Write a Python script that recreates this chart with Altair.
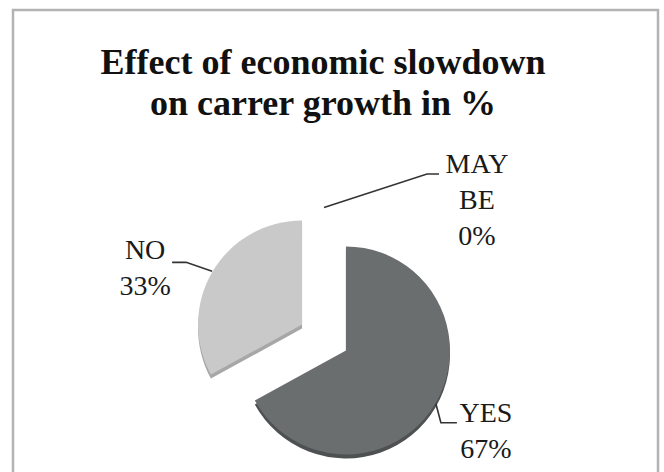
import altair as alt
import numpy as np
import pandas as pd

# ---- data ----
categories = ["YES", "NO", "MAY BE"]
values = [67, 33, 0]
title_lines = ["Effect of economic slowdown", "on carrer growth in %"]

# ---- styles ----
slice_colors = ["#6a6e6f", "#c9c9c9", "#b0b0b0"]
side_colors = ["#4e5152", "#a7a7a7", "#909090"]

# ---- layout ----
CX, CY = 324, 337.5      # pie centre
R = 104                  # pie radius
EXPLODE = 25.5           # explosion distance
DEPTH = 4                # 3-D thickness
LEADER_R = 130           # where leader lines start
# leader elbow / end and label anchor, relative to the leader start
leader_elbow = {"YES": (5, 19), "NO": (-26, -9), "MAY BE": (103, -33.5)}
leader_end = {"YES": (21, 19), "NO": (-40, -9), "MAY BE": (115, -33.5)}
label_off = {"YES": (50, 18), "NO": (-67, -12), "MAY BE": (153, -34.5)}

vals = np.array(values, dtype=float)
total = vals.sum()
end = np.cumsum(vals) / total * 100
start = end - vals / total * 100
mid = (start + end) / 2 / 100 * 2 * np.pi

arcs = pd.DataFrame({
    "category": categories,
    "start": start,
    "end": end,
    "px": CX + EXPLODE * np.sin(mid),
    "py": CY - EXPLODE * np.cos(mid),
    "fill": slice_colors,
    "side_fill": side_colors,
})
arcs["py_side"] = arcs["py"] + DEPTH

lead_rows = []
lab_rows = []
for c, v, m in zip(categories, values, mid):
    x0 = CX + LEADER_R * np.sin(m)
    y0 = CY - LEADER_R * np.cos(m)
    pts = [(x0, y0),
           (x0 + leader_elbow[c][0], y0 + leader_elbow[c][1]),
           (x0 + leader_end[c][0], y0 + leader_end[c][1])]
    for i, (lx, ly) in enumerate(pts):
        lead_rows.append({"category": c, "pt": i, "lx": lx, "ly": ly})
    lab_rows.append({
        "category": c,
        "label": c.replace(" ", "\n") + "\n" + f"{v}%",
        "tx": x0 + label_off[c][0],
        "ty": y0 + label_off[c][1],
    })
leaders = pd.DataFrame(lead_rows)
labels = pd.DataFrame(lab_rows)
title_df = pd.DataFrame({"title": ["\n".join(title_lines)]})

theta_scale = alt.Scale(domain=[0, 100], range=[0, 2 * np.pi])

border = alt.Chart(title_df).mark_rect(
    fill="white", stroke="#b3b3b3", strokeWidth=2.5
).encode(x=alt.value(13), x2=alt.value(658), y=alt.value(10), y2=alt.value(500))

side = alt.Chart(arcs).mark_arc(outerRadius=R).encode(
    theta=alt.Theta("start:Q", scale=theta_scale),
    theta2="end:Q",
    x=alt.X("px:Q", scale=None, axis=None),
    y=alt.Y("py_side:Q", scale=None, axis=None),
    fill=alt.Fill("side_fill:N", scale=None),
)

pie = alt.Chart(arcs).mark_arc(outerRadius=R).encode(
    theta=alt.Theta("start:Q", scale=theta_scale),
    theta2="end:Q",
    x=alt.X("px:Q", scale=None, axis=None),
    y=alt.Y("py:Q", scale=None, axis=None),
    fill=alt.Fill("fill:N", scale=None),
)

lines = alt.Chart(leaders).mark_line(color="#333333", strokeWidth=1.6).encode(
    x=alt.X("lx:Q", scale=None, axis=None),
    y=alt.Y("ly:Q", scale=None, axis=None),
    detail="category:N",
    order=alt.Order("pt:Q"),
)

text = alt.Chart(labels).mark_text(
    font="Liberation Serif", fontSize=28, align="center", baseline="alphabetic",
    lineBreak="\n", lineHeight=36, color="#1a1a1a"
).encode(
    x=alt.X("tx:Q", scale=None, axis=None),
    y=alt.Y("ty:Q", scale=None, axis=None),
    text="label:N",
)

title = alt.Chart(title_df).mark_text(
    font="Liberation Serif", fontSize=36, fontWeight="bold", align="center",
    baseline="alphabetic", lineBreak="\n", lineHeight=41, color="#111111"
).encode(x=alt.value(323), y=alt.value(74), text="title:N")

chart = alt.layer(border, side, pie, lines, text, title).properties(
    width=664, height=472, autosize=alt.AutoSizeParams(type="none"), padding=0,
    background="white"
).configure_view(stroke=None)

chart.save("out.html", embed_options={"renderer": "svg", "actions": False})
